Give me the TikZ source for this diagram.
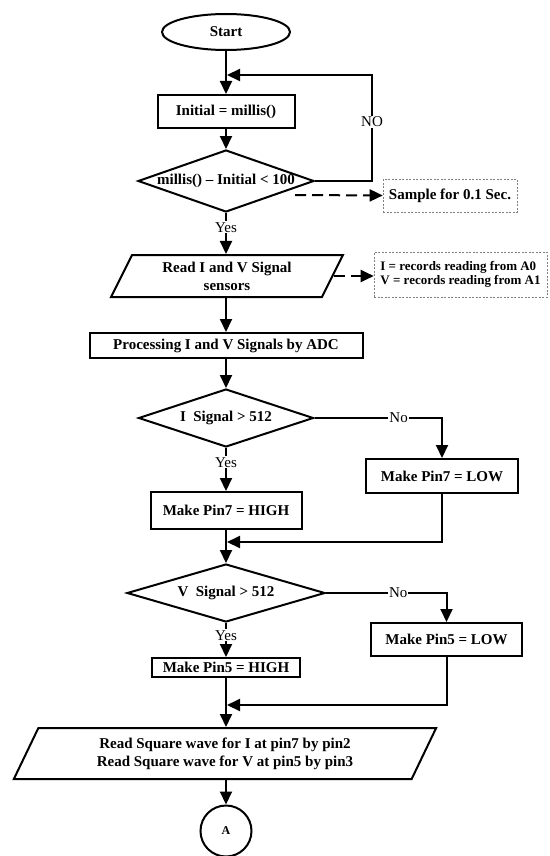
\documentclass[tikz,border=0pt]{standalone}
\usepackage{fontspec}
\setmainfont{Liberation Serif}
\usetikzlibrary{shapes.geometric,arrows.meta}
\begin{document}
\begin{tikzpicture}[x=1pt,y=-1pt,
  line width=2pt,
  base/.style={draw, line width=2pt, font=\fontsize{15}{18}\selectfont\bfseries, inner sep=0pt, align=center},
  box/.style={base, rectangle},
  dec/.style={base, diamond},
  io/.style={base, trapezium, trapezium stretches=true},
  arr/.style={-{Triangle[length=13pt,width=12pt]}, line width=2pt},
  darr/.style={arr, dash pattern=on 11pt off 6pt},
  note/.style={draw=gray, dash pattern=on 2pt off 1.5pt, line width=0.6pt, font=\fontsize{15}{15}\selectfont\bfseries, inner sep=0pt},
  lab/.style={fill=white, font=\fontsize{15}{15}\selectfont, inner sep=1pt}
]
\useasboundingbox (0,0) rectangle (549,856);

% nodes
\node[base, ellipse, minimum width=128pt, minimum height=36pt] (start) at (226,32) {Start};
\node[box, minimum width=137pt, minimum height=33pt] (init) at (226,111.5) {Initial = millis()};
\node[dec, minimum width=176pt, minimum height=62pt] (d1) at (226,181) {\makebox[0pt]{millis() – Initial < 100}};
\node[note, minimum width=134pt, minimum height=33pt] (sample) at (450,195.5) {Sample for 0.1 Sec.};
\node[io, trapezium left angle=63.4, trapezium right angle=116.6, minimum width=232pt, minimum height=42pt] (p1) at (227,276) {Read I and V Signal\\sensors};
\node[note, minimum width=173pt, minimum height=45pt, align=left, font=\fontsize{13}{14.5}\selectfont\bfseries] (rec) at (460.5,274.5) {I = records reading from A0\\V = records reading from A1};
\node[box, minimum width=273pt, minimum height=25pt] (proc) at (226,345.5) {Processing I and V Signals by ADC};
\node[dec, minimum width=175pt, minimum height=58pt] (d2) at (226,418) {\makebox[0pt]{I~~Signal > 512}};
\node[box, minimum width=152pt, minimum height=34pt] (low7) at (442,476) {Make Pin7 = LOW};
\node[box, minimum width=151pt, minimum height=37pt] (high7) at (226,510.5) {Make Pin7 = HIGH};
\node[dec, minimum width=198pt, minimum height=58pt] (d3) at (226,593) {\makebox[0pt]{V~~Signal > 512}};
\node[box, minimum width=151pt, minimum height=33pt] (low5) at (446.5,639.5) {Make Pin5 = LOW};
\node[box, minimum width=148pt, minimum height=19pt] (high5) at (226,667.5) {Make Pin5 = HIGH};
\node[io, trapezium left angle=62.1, trapezium right angle=117.9, minimum width=424pt, minimum height=51pt] (p2) at (225,753.5) {Read Square wave for I at pin7 by pin2\\Read Square wave for V at pin5 by pin3};
\node[base, circle, minimum size=51pt, font=\fontsize{12}{12}\selectfont\bfseries] (A) at (226,831) {A};

\coordinate (loopR) at (372,75);
\coordinate (loopL) at (227,75);
\coordinate (ds) at (295,195);
\coordinate (m1) at (227,542);
\coordinate (m2) at (227,705);

% connectors
\draw[arr] (start.south) -- (start.south |- init.north);
\draw[arr] (init.south) -- (init.south |- d1.north);
\draw[arr] (d1.east) -- (d1.east -| loopR) -- node[lab, pos=0.56]{NO} (loopR) -- (loopL);
\draw[arr] (d1.south) -- node[lab, pos=0.35]{Yes} (d1.south |- p1.north);
\draw[darr] (ds) -- (sample.west);
\draw[darr] (p1.east) -- (p1.east -| rec.west);
\draw[arr] (d1.south |- p1.south) -- (d1.south |- proc.north);
\draw[arr] (proc.south) -- (proc.south |- d2.north);
\draw[arr] (d2.east) -| node[lab, pos=0.33]{No} (low7.north);
\draw[arr] (d2.south) -- node[lab, pos=0.33]{Yes} (high7.north);
\draw[arr] (low7.south) |- (m1);
\draw[arr] (high7.south) -- (d3.north);
\draw[arr] (d3.east) -| node[lab, pos=0.3]{No} (low5.north);
\draw[arr] (d3.south) -- node[lab, pos=0.36]{Yes} (high5.north);
\draw[arr] (low5.south) |- (m2);
\draw[arr] (high5.south) -- (high5.south |- p2.north);
\draw[arr] (high5.south |- p2.south) -- (A.north);
\end{tikzpicture}
\end{document}
